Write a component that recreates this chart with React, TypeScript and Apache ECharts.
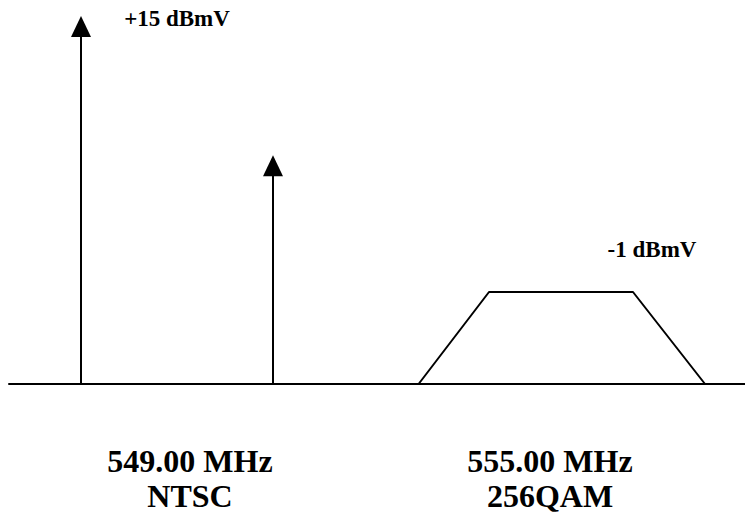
import React, { useEffect, useRef } from "react";
import * as echarts from "echarts";

// Schematic spectrum: positions in abstract units along the frequency axis, levels above the noise floor
const carrierNames = ["Video carrier", "Audio carrier"];
const carrierX = [4.5, 16.5];
const carrierLevel = [23, 14.3];
const qamX = [25.6, 30, 39, 43.5];
const qamLevel = [0, 5.75, 5.75, 0];
const levelLabels = ["+15 dBmV", "-1 dBmV"];
const channelLabels = ["549.00 MHz\nNTSC", "555.00 MHz\n256QAM"];

const FONT = "'Liberation Serif', 'Times New Roman', serif";

export default function App() {
  const ref = useRef<HTMLDivElement>(null);
  useEffect(() => {
    if (!ref.current) return;
    const chart = echarts.init(ref.current, undefined, { renderer: "svg" });
    const carrierData = carrierX.map((x, i) => [x, carrierLevel[i]]);
    const qamData = qamX.map((x, i) => [x, qamLevel[i]]);
    chart.setOption({
      animation: false,
      backgroundColor: "#ffffff",
      grid: { left: 9, right: 0, top: 16, bottom: 135, containLabel: false },
      xAxis: {
        type: "value",
        min: 0,
        max: 46,
        axisLine: { show: true, onZero: true, lineStyle: { color: "#000", width: 2 } },
        axisTick: { show: false },
        axisLabel: { show: false },
        splitLine: { show: false },
      },
      yAxis: {
        type: "value",
        min: 0,
        max: 23,
        show: false,
      },
      series: [
        {
          type: "custom",
          name: "carriers",
          data: carrierData,
          renderItem: (params: any, api: any) => {
            const x = api.value(0);
            const y = api.value(1);
            const base = api.coord([x, 0]);
            const tip = api.coord([x, y]);
            const hw = 10;
            const hh = 21;
            return {
              type: "group",
              children: [
                {
                  type: "line",
                  shape: { x1: base[0], y1: base[1], x2: tip[0], y2: tip[1] + hh - 1 },
                  style: { stroke: "#000", lineWidth: 2 },
                },
                {
                  type: "polygon",
                  shape: {
                    points: [
                      [tip[0], tip[1]],
                      [tip[0] - hw, tip[1] + hh],
                      [tip[0] + hw, tip[1] + hh],
                    ],
                  },
                  style: { fill: "#000" },
                },
              ],
            };
          },
        },
        {
          type: "line",
          name: "256QAM",
          data: qamData,
          showSymbol: false,
          symbol: "none",
          lineStyle: { color: "#000", width: 2 },
          z: 3,
        },
      ],
      graphic: [
        {
          type: "text",
          x: 177,
          y: 18,
          style: {
            text: levelLabels[0],
            font: `bold 23px ${FONT}`,
            fill: "#000",
            align: "center",
            verticalAlign: "middle",
          },
        },
        {
          type: "text",
          x: 652,
          y: 249,
          style: {
            text: levelLabels[1],
            font: `bold 23px ${FONT}`,
            fill: "#000",
            align: "center",
            verticalAlign: "middle",
          },
        },
        {
          type: "text",
          x: 190,
          y: 478,
          style: {
            text: channelLabels[0],
            font: `bold 32px ${FONT}`,
            lineHeight: 35,
            fill: "#000",
            align: "center",
            verticalAlign: "middle",
          },
        },
        {
          type: "text",
          x: 550,
          y: 478,
          style: {
            text: channelLabels[1],
            font: `bold 32px ${FONT}`,
            lineHeight: 35,
            fill: "#000",
            align: "center",
            verticalAlign: "middle",
          },
        },
      ],
    });
    return () => chart.dispose();
  }, []);
  return (
    <div
      ref={ref}
      style={{ position: "absolute", left: 0, top: 0, width: 745, height: 519 }}
    />
  );
}
